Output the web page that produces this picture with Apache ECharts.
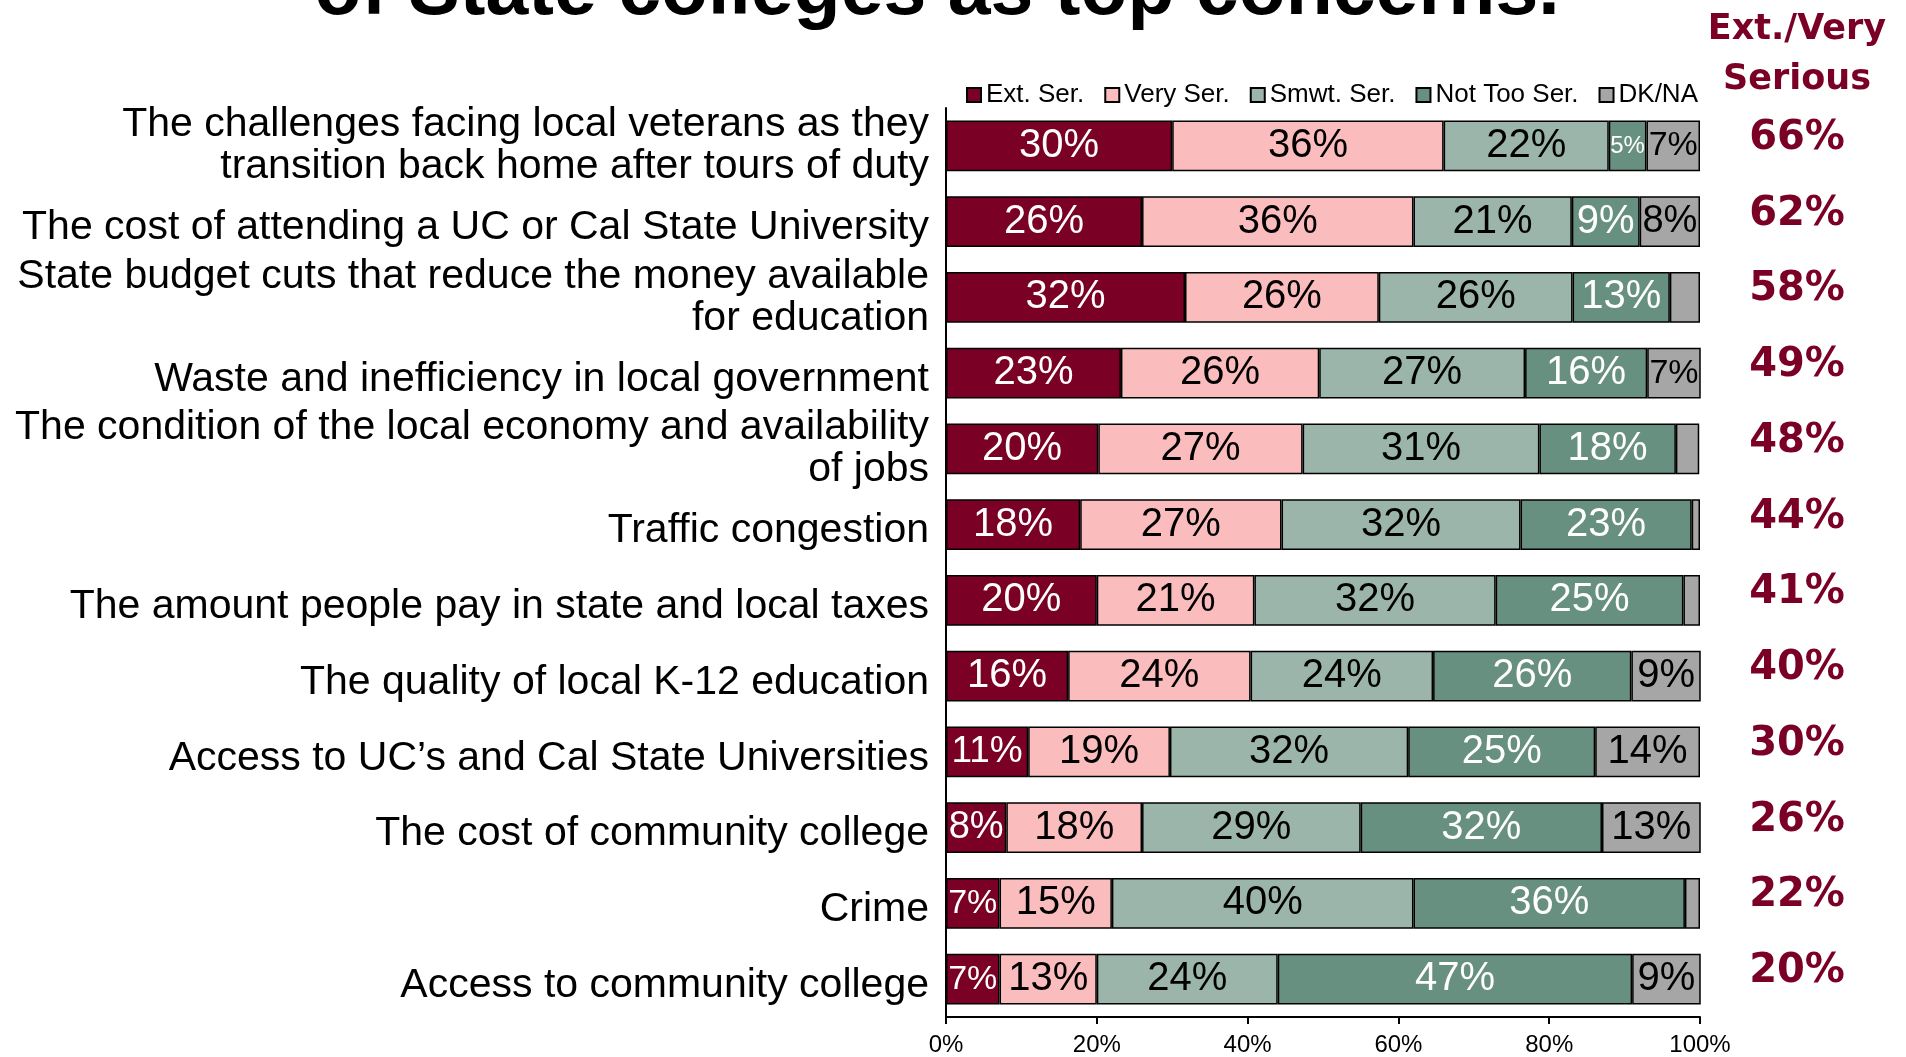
<!DOCTYPE html>
<html>
<head>
<meta charset="utf-8">
<script src="https://cdn.jsdelivr.net/npm/echarts@6/dist/echarts.min.js"></script>
<style>html,body{margin:0;padding:0;background:#fff;}#c{width:1906px;height:1057px;}</style>
</head>
<body>
<div id="c"></div>
<script>
const categories = [
  'The challenges facing local veterans as they\ntransition back home after tours of duty',
  'The cost of attending a UC or Cal State University',
  'State budget cuts that reduce the money available\nfor education',
  'Waste and inefficiency in local government',
  'The condition of the local economy and availability\nof jobs',
  'Traffic congestion',
  'The amount people pay in state and local taxes',
  'The quality of local K-12 education',
  'Access to UC\u2019s and Cal State Universities',
  'The cost of community college',
  'Crime',
  'Access to community college'
];
const seriesNames = ['Ext. Ser.', 'Very Ser.', 'Smwt. Ser.', 'Not Too Ser.', 'DK/NA'];
const extSer   = [30, 26, 31.7, 23.2, 20.2, 17.8, 20.0, 16.2, 10.9, 8.0, 7.1, 7.1];
const verySer  = [36, 36, 25.7, 26.3, 27.1, 26.7, 20.9, 24.2, 18.8, 18.0, 14.9, 12.9];
const smwtSer  = [21.9, 21, 25.7, 27.3, 31.4, 31.7, 32.0, 24.2, 31.6, 29.0, 40.0, 24.0];
const notTooSer= [5.0, 9.0, 12.9, 16.2, 18.1, 22.7, 24.9, 26.3, 24.8, 32.0, 36.0, 47.0];
const dkNa     = [7.1, 8.0, 4.0, 7.1, 3.1, 1.1, 2.2, 9.2, 13.9, 13.1, 2.0, 9.1];
const extVery  = ['66%', '62%', '58%', '49%', '48%', '44%', '41%', '40%', '30%', '26%', '22%', '20%'];
const xTicks   = [0, 20, 40, 60, 80, 100];

const colors = ['#7A0026', '#FBBCBD', '#9BB5AA', '#679080', '#A6A6A6'];
const labelColors = ['#fff', '#000', '#000', '#fff', '#000'];
const allData = [extSer, verySer, smwtSer, notTooSer, dkNa];
const PLOT_W = 754;
const FONT = '"Liberation Sans", Arial, sans-serif';

function fitSize(v) {
  const txt = Math.round(v) + '%';
  const em = (txt.length - 1) * 0.556 + 0.889;
  const seg = v / 100 * PLOT_W;
  return Math.min(40, Math.floor(seg * 0.92 / em));
}

const series = allData.map((arr, si) => ({
  name: seriesNames[si],
  type: 'bar',
  stack: 'total',
  barCategoryGap: '33%',
  itemStyle: { color: colors[si], borderColor: '#000', borderWidth: 1.5 },
  data: arr.map(v => ({
    value: v,
    label: { show: v >= 4.5, fontSize: fitSize(v) }
  })),
  label: {
    show: true,
    position: 'inside',
    color: labelColors[si],
    fontFamily: FONT,
    formatter: p => Math.round(p.value) + '%'
  },
  emphasis: { disabled: true }
}));

const catTxt = { fontSize: 41, lineHeight: 42, color: '#000', fontFamily: FONT, align: 'right' };

const chart = echarts.init(document.getElementById('c'), null, { renderer: 'canvas' });
chart.setOption({
  animation: false,
  backgroundColor: '#fff',
  textStyle: { fontFamily: FONT },
  legend: {
    data: seriesNames,
    left: 966,
    top: 82,
    padding: 0,
    itemWidth: 14,
    itemHeight: 14,
    itemGap: 20,
    icon: 'rect',
    textStyle: { fontSize: 26, color: '#000', fontFamily: FONT },
    selectedMode: false
  },
  grid: { left: 946, right: 206, top: 108, bottom: 38, containLabel: false },
  xAxis: {
    type: 'value',
    min: xTicks[0],
    max: xTicks[xTicks.length - 1],
    interval: xTicks[1] - xTicks[0],
    axisLine: { show: true, lineStyle: { color: '#000', width: 2 } },
    axisTick: { show: true, length: 7, lineStyle: { color: '#000', width: 2 } },
    splitLine: { show: false },
    axisLabel: { formatter: '{value}%', fontSize: 24, color: '#000', margin: 16, fontFamily: FONT }
  },
  yAxis: [{
    type: 'category',
    inverse: true,
    data: categories,
    axisLine: { show: true, lineStyle: { color: '#000', width: 2 } },
    axisTick: { show: false },
    axisLabel: {
      margin: 17, align: 'right', interval: 0, showMinLabel: true, showMaxLabel: true,
      formatter: v => {
        const lines = v.split('\n');
        if (lines.length === 1) return '{s|' + v + '}';
        return lines.map(l => '{m|' + l + '}').join('\n');
      },
      rich: {
        s: Object.assign({ padding: [13, 0, 0, 0] }, catTxt),
        m: Object.assign({}, catTxt)
      }
    }
  }, {
    type: 'category',
    inverse: true,
    position: 'right',
    data: extVery,
    axisLine: { show: false },
    axisTick: { show: false },
    axisLabel: {
      margin: 97, align: 'center', interval: 0, showMinLabel: true, showMaxLabel: true,
      formatter: v => '{r|' + v + '}',
      rich: {
        r: {
          fontSize: 40, fontWeight: 'bold', color: '#7A0026',
          fontFamily: '"DejaVu Sans", sans-serif', padding: [0, 0, 15, 0]
        }
      }
    }
  }],
  graphic: [{
    type: 'text',
    x: 937, y: -7,
    style: {
      text: 'of State colleges as top concerns.',
      font: 'bold 77px "Liberation Sans", Arial, sans-serif',
      fill: '#000', align: 'center', verticalAlign: 'middle'
    }
  }, {
    type: 'text',
    x: 1797, y: 55,
    style: {
      text: 'Ext./Very\nSerious',
      font: 'bold 35px "DejaVu Sans", sans-serif',
      lineHeight: 50,
      fill: '#7A0026', align: 'center', verticalAlign: 'middle'
    }
  }],
  series: series
});
</script>
</body>
</html>
